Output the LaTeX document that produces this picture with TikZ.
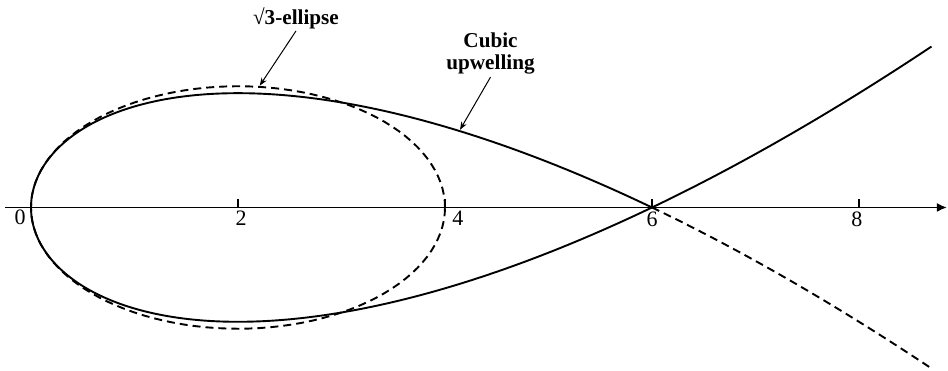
\documentclass[tikz,border=0pt]{standalone}
\usepackage{fontspec}
\setmainfont{Liberation Serif}
\usetikzlibrary{arrows.meta}
\newcommand{\upc}{0.19245}
\tikzset{
  axisline/.style={line width=0.95pt, -{Latex[length=5pt,width=4.5pt]}},
  curvesolid/.style={line width=0.95pt},
  curvedash/.style={line width=0.95pt, dash pattern=on 4pt off 2.5pt},
  ticklbl/.style={inner sep=0pt, font=\fontsize{11}{12}\selectfont},
  lbltext/.style={inner sep=1pt, align=center, font=\fontsize{10.6}{11}\selectfont\bfseries},
  lblarr/.style={line width=0.5pt, -{Stealth[length=4pt,width=3pt]}}}
\begin{document}
\begin{tikzpicture}[x=51.75pt, y=52.5pt]
  \useasboundingbox (-0.2995,-1.548) rectangle (8.860,1.976);
  % axis and ticks
  \coordinate (axl) at (-0.25,0);
  \coordinate (axr) at (8.85,0);
  \draw[axisline] (axl) -- (axr);
  \foreach \k in {2,4,6,8}
    \draw[line width=0.7pt] (\k,0) -- (\k,0.085);
  \node[ticklbl] (t0) at (-0.106,-0.09) {0};
  \node[ticklbl] (t2) at (2.03,-0.105) {2};
  \node[ticklbl] (t4) at (4.125,-0.105) {4};
  \node[ticklbl] (t6) at (6.0,-0.115) {6};
  \node[ticklbl] (t8) at (7.98,-0.115) {8};
  % the root-3 ellipse
  \draw[curvedash] plot[domain=0:360, samples=121, variable=\a]
    ({2+2*cos(\a)}, {1.1547*sin(\a)});
  % the cubic: x = t^2, y = c t (6 - t^2)
  \draw[curvesolid] plot[domain=-2.9496:2.44949, samples=160, smooth, variable=\t]
    ({\t*\t}, {\upc*\t*(6-\t*\t)});
  \draw[curvedash] plot[domain=2.44949:2.9496, samples=40, smooth, variable=\t]
    ({\t*\t}, {\upc*\t*(6-\t*\t)});
  % labels
  \node[lbltext] (elab) at (2.56,1.805) {√3-ellipse};
  \coordinate (ellpt) at (2.21,1.16);
  \draw[lblarr] (elab.south) -- (ellpt);
  \node[lbltext] (clab) at (4.44,1.462) {Cubic\\upwelling};
  \coordinate (cubpt) at (4.145,0.74);
  \draw[lblarr] (clab.south) -- (cubpt);
\end{tikzpicture}
\end{document}
